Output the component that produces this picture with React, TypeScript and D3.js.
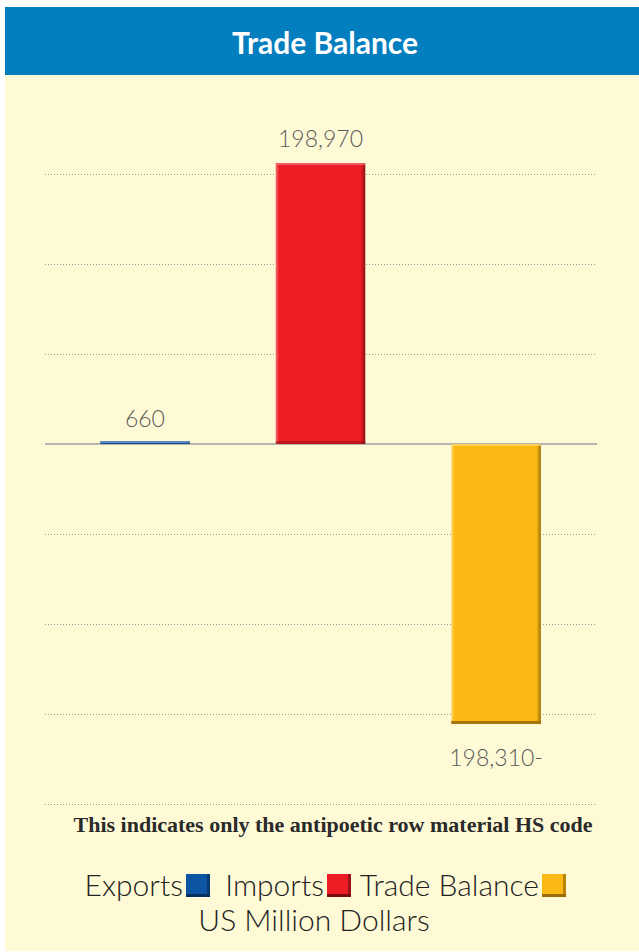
import React from 'react';
import * as d3 from 'd3';

const categories = ['Exports', 'Imports', 'Trade Balance'];
const values = [660, 198970, -198310];
const valueLabels = ['660', '198,970', '198,310-'];
const barColors = ['#1a5aa6', '#ee1c25', '#fdb913'];
const barDark = ['#0b3a73', '#8a1015', '#9c6d07'];
const barLight = ['#6f9ad0', '#f46a70', '#ffd46a'];
const gridValues = [191250, 127500, 63750, -63750, -127500, -191250, -255000];
const legendLabels = ['Exports', 'Imports', 'Trade Balance'];
const legendColors = ['#0b55a3', '#ee1c25', '#fdb913'];
const legendDark = ['#062f5e', '#7a0e12', '#9c6d07'];

const W = 639;
const H = 952;

const App = () => {
  const x = d3.scaleBand()
    .domain(categories)
    .range([58, 583])
    .paddingInner(0.49)
    .paddingOuter(0.24);

  const y = d3.scaleLinear()
    .domain([-255000, 255000])
    .range([804, 84]);

  const gridX1 = 45;
  const gridX2 = 597;
  const sans = 'Lato, "Open Sans", sans-serif';
  // left edge of each legend swatch
  const swatchX = [186, 327, 542];

  return (
    <svg width={W} height={H} style={{ position: 'absolute', left: 0, top: 0, display: 'block' }}>
      <defs>
        {categories.map((c, i) => (
          <linearGradient key={c} id={`bar-${i}`} x1="0" x2="1" y1="0" y2="0">
            <stop offset="0" stopColor={barLight[i]} />
            <stop offset="0.04" stopColor={barColors[i]} />
            <stop offset="0.95" stopColor={barColors[i]} />
            <stop offset="1" stopColor={barDark[i]} />
          </linearGradient>
        ))}
      </defs>

      <rect x={5} y={75} width={W - 5} height={876} fill="#fffad6" />
      <rect x={5} y={7} width={W - 5} height={68} fill="#037ebf" />
      <text x={325} y={54} textAnchor="middle" fill="#fff" fontFamily={sans} fontWeight={700} fontSize={30}>
        Trade Balance
      </text>

      {/* grid */}
      {gridValues.map(v => (
        <line key={v} x1={gridX1} x2={gridX2} y1={Math.round(y(v)) + 0.5} y2={Math.round(y(v)) + 0.5}
          stroke="#9a9a9a" strokeWidth={1} strokeDasharray="1,2" />
      ))}
      <line x1={gridX1} x2={gridX2} y1={y(0)} y2={y(0)} stroke="#a0a0a0" strokeWidth={1.5} />

      {/* bars */}
      {categories.map((c, i) => {
        const v = values[i];
        const top = Math.min(y(v), y(0));
        const h = Math.max(Math.abs(y(v) - y(0)), 3);
        const yy = v >= 0 ? y(0) - h : y(0);
        const bx = x(c)!;
        const bw = x.bandwidth();
        return (
          <g key={c}>
            <rect x={bx} y={yy} width={bw} height={h} fill={`url(#bar-${i})`} />
            <rect x={bx} y={yy + h - 3} width={bw} height={3} fill={barDark[i]} opacity={v >= 0 ? 0.5 : 0.9} />
            <rect x={bx} y={yy} width={bw} height={2} fill={barLight[i]} opacity={0.8} />
            <text
              x={bx + bw / 2}
              y={v >= 0 ? top - 16 : y(v) + 42}
              textAnchor="middle"
              fill="#5a5a5a"
              fontFamily={sans}
              fontWeight={300}
              fontSize={23}
            >
              {valueLabels[i]}
            </text>
          </g>
        );
      })}

      <text x={333} y={832} textAnchor="middle" fill="#2a2a2a" fontFamily='"Liberation Serif", serif' fontWeight={700} fontSize={22}>
        This indicates only the antipoetic row material HS code
      </text>

      {/* legend */}
      {legendLabels.map((d, i) => (
        <g key={d}>
          <text x={swatchX[i] - 3} y={896} textAnchor="end" fill="#222" fontFamily={sans} fontWeight={300} fontSize={30}>
            {d}
          </text>
          <rect x={swatchX[i]} y={874} width={24} height={23} fill={legendColors[i]} />
          <rect x={swatchX[i]} y={894} width={24} height={3} fill={legendDark[i]} />
          <rect x={swatchX[i] + 21} y={874} width={3} height={23} fill={legendDark[i]} opacity={0.7} />
        </g>
      ))}
      <text x={314} y={931} textAnchor="middle" fill="#222" fontFamily={sans} fontWeight={300} fontSize={30}>
        US Million Dollars
      </text>
    </svg>
  );
};

export default App;
